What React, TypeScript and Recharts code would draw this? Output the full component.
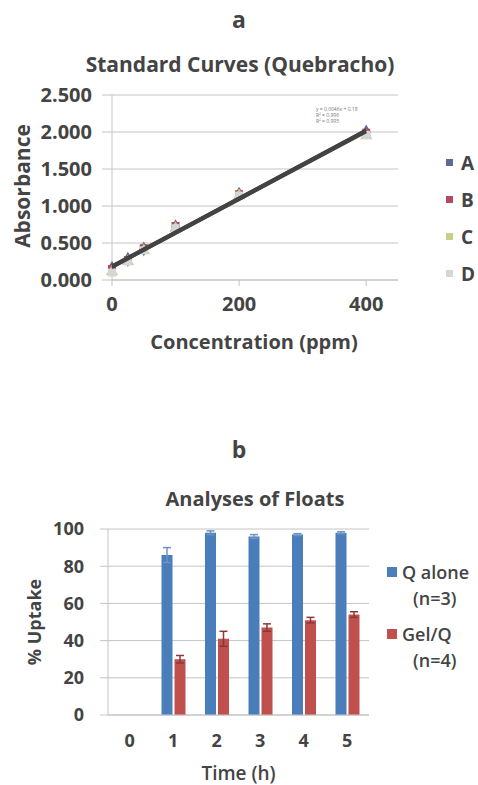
import React from 'react'
import {
  Bar,
  BarChart,
  CartesianGrid,
  ErrorBar,
  Scatter,
  ScatterChart,
  XAxis,
  YAxis,
} from 'recharts'

// chart a: standard curves
const concentrations = [0, 25, 50, 100, 200, 400]
const absA = [0.16, 0.28, 0.42, 0.72, 1.16, 2.0]
const absB = [0.15, 0.27, 0.43, 0.73, 1.16, 1.99]
const absC = [0.11, 0.25, 0.4, 0.7, 1.14, 1.95]
const absD = [0.1, 0.25, 0.4, 0.7, 1.14, 1.96]
const absTicks = [0, 0.5, 1, 1.5, 2, 2.5]
const concTicks = [0, 200, 400]

// chart b: floats
const hours = ['0', '1', '2', '3', '4', '5']
const qAlone = [0, 86, 98, 96, 97, 98]
const qAloneErr = [0, 4, 1, 1, 0.5, 0.5]
const gelQ = [0, 30, 41, 47, 51, 54]
const gelQErr = [0, 2, 4, 2, 1.5, 1.5]
const uptakeTicks = [0, 20, 40, 60, 80, 100]

const FONT = "'Open Sans', sans-serif"
const TXT = '#444'

const series = [
  { name: 'A', values: absA, color: '#5b6b94', shape: 'diamond' },
  { name: 'B', values: absB, color: '#b34a5f', shape: 'square' },
  { name: 'C', values: absC, color: '#c8cf86', shape: 'triangle' },
  { name: 'D', values: absD, color: '#d6d6d6', shape: 'square' },
]

const bars = [
  { key: 'q', label: 'Q alone', n: '(n=3)', color: '#4a7ebb' },
  { key: 'g', label: 'Gel/Q', n: '(n=4)', color: '#c0504d' },
]

const toPoints = (ys: number[]) => concentrations.map((x, i) => ({ x, y: ys[i] }))

// least squares trendline, like excel's linear trendline
const fitLine = (ys: number[]) => {
  const n = ys.length
  const mx = concentrations.reduce((a, b) => a + b, 0) / n
  const my = ys.reduce((a, b) => a + b, 0) / n
  let sxy = 0
  let sxx = 0
  concentrations.forEach((x, i) => {
    sxy += (x - mx) * (ys[i] - my)
    sxx += (x - mx) * (x - mx)
  })
  const m = sxy / sxx
  const b = my - m * mx
  const x0 = concentrations[0]
  const x1 = concentrations[n - 1]
  return [
    { x: x0, y: b + m * x0 },
    { x: x1, y: b + m * x1 },
  ]
}

const tickA = { fontFamily: FONT, fontSize: 20, fontWeight: 700, fill: TXT }
const tickB = { fontFamily: FONT, fontSize: 18, fontWeight: 700, fill: TXT }

const floatData = hours.map((h, i) => ({
  h,
  q: qAlone[i],
  qe: qAloneErr[i],
  g: gelQ[i],
  ge: gelQErr[i],
}))

const label = (text: string, style: React.CSSProperties) => (
  <div
    style={{
      position: 'absolute',
      fontFamily: FONT,
      color: TXT,
      whiteSpace: 'nowrap',
      ...style,
    }}
  >
    {text}
  </div>
)

const App = () => {
  return (
    <div style={{ position: 'absolute', left: 0, top: 0, width: 478, height: 785, background: '#fff' }}>
      <div style={{ position: 'absolute', left: 0, top: 0 }}>
        <ScatterChart width={478} height={360} margin={{ top: 95, right: 80, bottom: 50, left: 0 }}>
          <CartesianGrid vertical={false} stroke='#c4c4c4' />
          <XAxis
            type='number'
            dataKey='x'
            domain={[0, 450]}
            ticks={concTicks}
            tick={tickA}
            tickSize={6}
            tickMargin={11}
            height={30}
            stroke='#c4c4c4'
          />
          <YAxis
            type='number'
            dataKey='y'
            domain={[0, 2.5]}
            ticks={absTicks}
            tickFormatter={(v: number) => v.toFixed(3)}
            tick={tickA}
            tickSize={10}
            tickMargin={10}
            width={112}
            stroke='#c4c4c4'
          />
          {series.map((s) => (
            <Scatter
              key={s.name}
              name={s.name}
              data={toPoints(s.values)}
              fill={s.color}
              shape={s.shape as any}
              isAnimationActive={false}
            />
          ))}
          {series.map((s) => (
            <Scatter
              key={'fit' + s.name}
              data={fitLine(s.values)}
              line={{ stroke: '#434343', strokeWidth: 2.2 }}
              shape={() => <g />}
              legendType='none'
              isAnimationActive={false}
            />
          ))}
        </ScatterChart>
      </div>

      <div
        style={{
          position: 'absolute',
          left: 446,
          top: 144,
          fontFamily: FONT,
          fontSize: 19,
          fontWeight: 700,
          color: TXT,
        }}
      >
        {series.map((s) => (
          <div key={s.name} style={{ height: 37, display: 'flex', alignItems: 'center' }}>
            <span
              style={{
                display: 'inline-block',
                width: 7,
                height: 7,
                background: s.color,
                marginRight: 8,
              }}
            />
            {s.name}
          </div>
        ))}
      </div>

      {label('a', { left: 0, width: 478, textAlign: 'center', top: 3, fontSize: 23, fontWeight: 700 })}
      {label('Standard Curves (Quebracho)', {
        left: 0,
        width: 480,
        textAlign: 'center',
        top: 50,
        fontSize: 21,
        fontWeight: 700,
      })}
      {label('Concentration (ppm)', { left: 110, width: 288, textAlign: 'center', top: 328, fontSize: 20, fontWeight: 700 })}
      {label('Absorbance', {
        left: 22,
        top: 186,
        fontSize: 21,
        fontWeight: 700,
        transform: 'translate(-50%, -50%) rotate(-90deg)',
      })}
      <div
        style={{
          position: 'absolute',
          left: 316,
          top: 106,
          fontFamily: FONT,
          fontSize: 5,
          lineHeight: '6px',
          color: '#777',
        }}
      >
        <div>y = 0.0046x + 0.18</div>
        <div>R² = 0.996</div>
        <div>R² = 0.995</div>
      </div>

      <div style={{ position: 'absolute', left: 0, top: 400 }}>
        <BarChart
          width={478}
          height={385}
          data={floatData}
          margin={{ top: 129, right: 109, bottom: 40, left: 0 }}
          barGap={2}
          barSize={11}
        >
          <CartesianGrid vertical={false} stroke='#c4c4c4' />
          <XAxis
            dataKey='h'
            tick={tickB}
            tickSize={0}
            tickMargin={19}
            height={30}
            stroke='#c4c4c4'
          />
          <YAxis
            domain={[0, 100]}
            ticks={uptakeTicks}
            tick={tickB}
            tickSize={8}
            tickMargin={16}
            width={108}
            stroke='#c4c4c4'
          />
          <Bar dataKey='q' name='Q alone (n=3)' fill={bars[0].color} isAnimationActive={false}>
            <ErrorBar dataKey='qe' width={4} stroke='#6f93c6' direction='y' />
          </Bar>
          <Bar dataKey='g' name='Gel/Q (n=4)' fill={bars[1].color} isAnimationActive={false}>
            <ErrorBar dataKey='ge' width={4} stroke='#8c3836' direction='y' />
          </Bar>
        </BarChart>
      </div>

      <div
        style={{
          position: 'absolute',
          left: 387,
          top: 558,
          fontFamily: FONT,
          fontSize: 18,
          fontWeight: 600,
          color: TXT,
        }}
      >
        {bars.map((b) => (
          <div key={b.key} style={{ height: 62 }}>
            <div style={{ display: 'flex', alignItems: 'center', height: 28 }}>
              <span
                style={{
                  display: 'inline-block',
                  width: 10,
                  height: 10,
                  background: b.color,
                  marginRight: 5,
                }}
              />
              {b.label}
            </div>
            <div style={{ paddingLeft: 26 }}>{b.n}</div>
          </div>
        ))}
      </div>

      {label('b', { left: 0, width: 478, textAlign: 'center', top: 433, fontSize: 23, fontWeight: 700 })}
      {label('Analyses of Floats', { left: 0, width: 510, textAlign: 'center', top: 485, fontSize: 20, fontWeight: 700 })}
      {label('Time (h)', { left: 108, width: 261, textAlign: 'center', top: 760, fontSize: 19, fontWeight: 600 })}
      {label('% Uptake', {
        left: 34,
        top: 622,
        fontSize: 18,
        fontWeight: 700,
        transform: 'translate(-50%, -50%) rotate(-90deg)',
      })}
    </div>
  )
}

export default App
